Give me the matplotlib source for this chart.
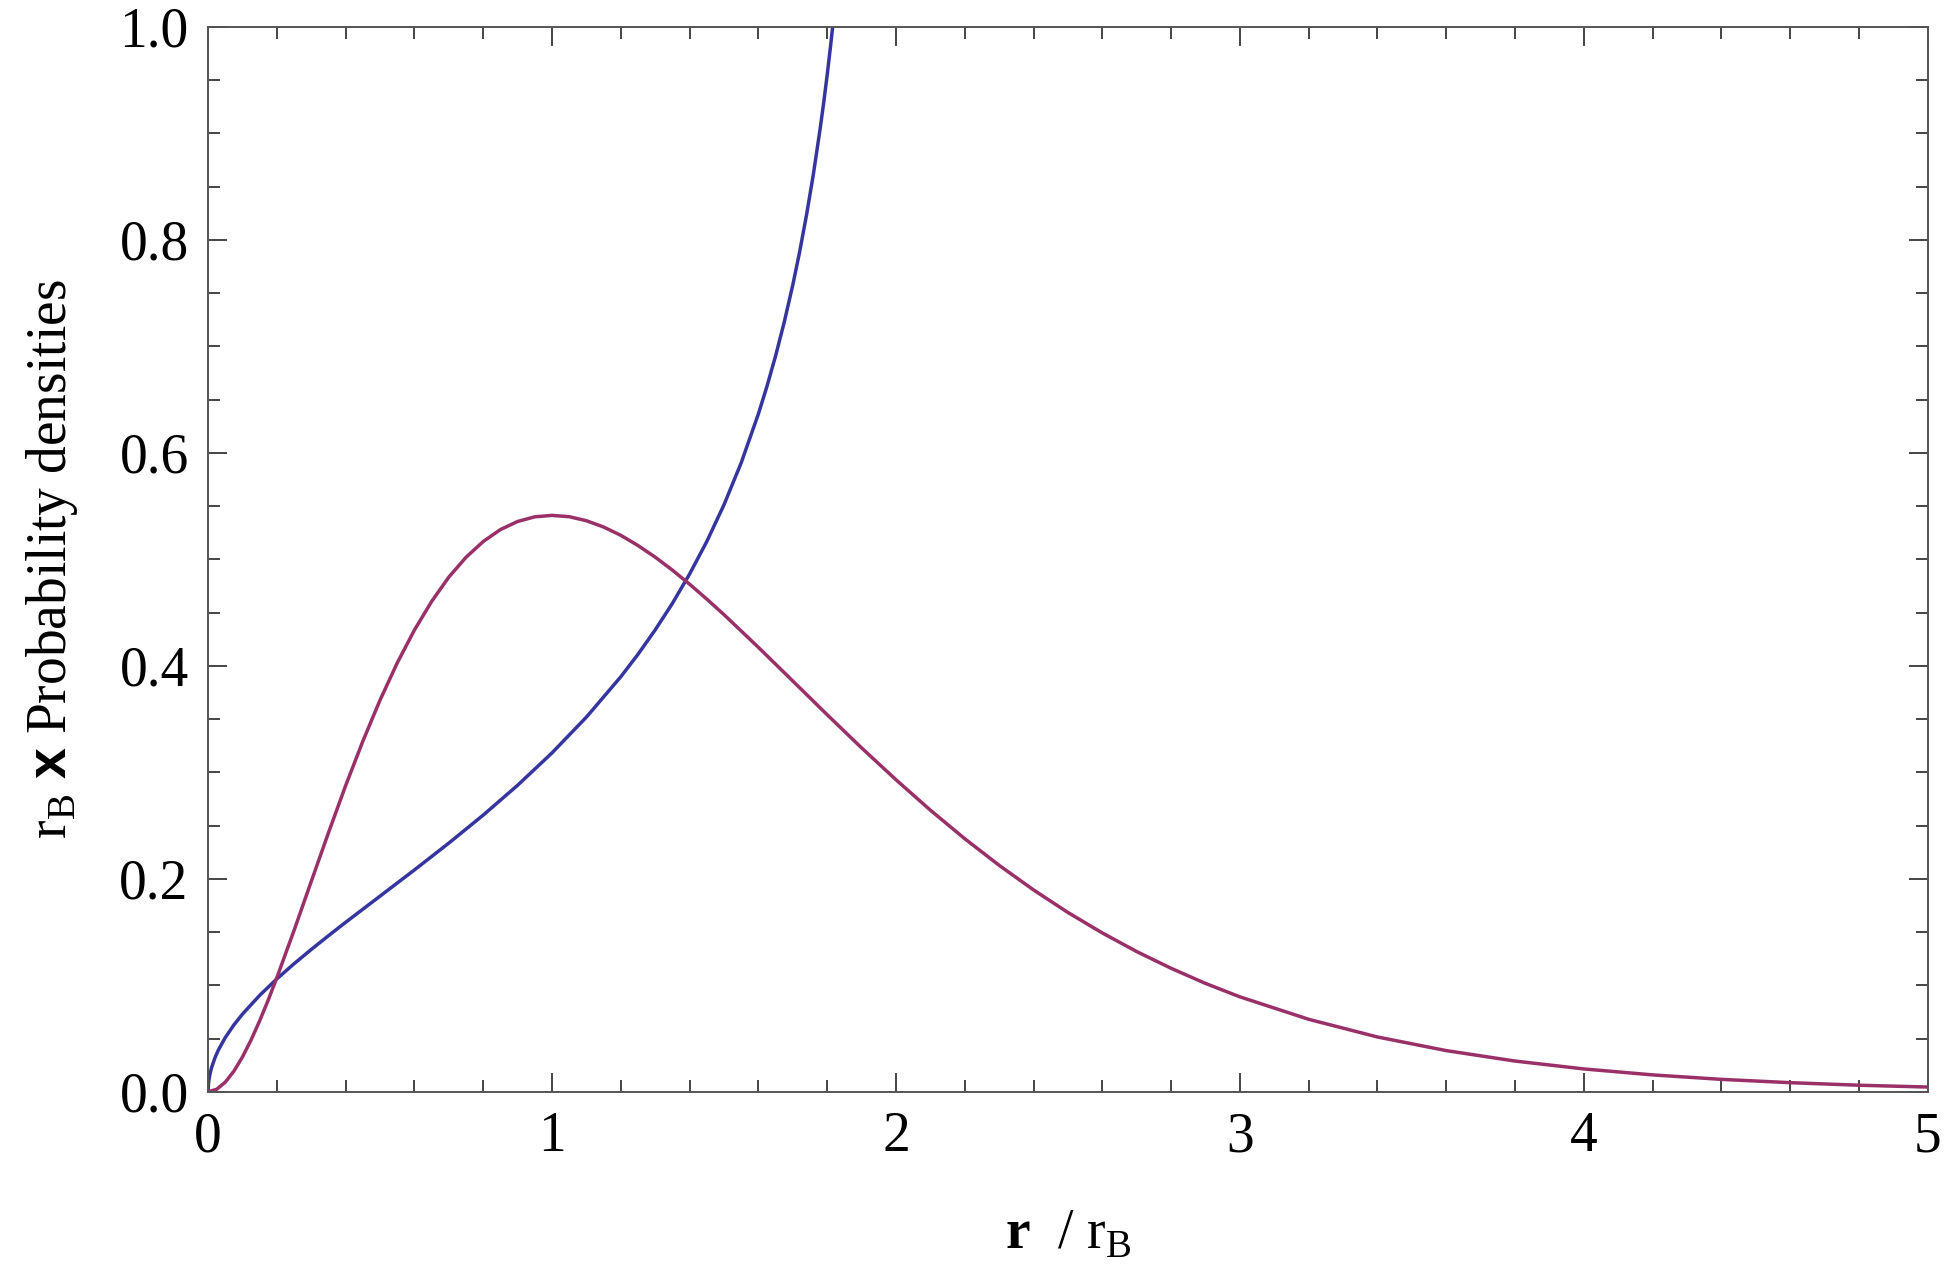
import numpy as np
import matplotlib.pyplot as plt
from matplotlib.ticker import MultipleLocator

plt.rcParams['font.family'] = ['Liberation Serif', 'DejaVu Serif']
plt.rcParams['mathtext.fontset'] = 'custom'
plt.rcParams['mathtext.rm'] = 'Liberation Serif'
plt.rcParams['mathtext.bf'] = 'Liberation Serif:bold'
plt.rcParams['mathtext.sf'] = 'Liberation Sans:bold'

# blue curve (shoots up just before r ~ 1.82)
r_blue = [0, 0.001, 0.002, 0.005, 0.01, 0.02, 0.03, 0.05, 0.075, 0.1, 0.15,
          0.2, 0.25, 0.3, 0.35, 0.4, 0.45, 0.5, 0.6, 0.7, 0.8, 0.9, 1.0, 1.1,
          1.2, 1.25, 1.3, 1.35, 1.4, 1.45, 1.5, 1.55, 1.6, 1.625, 1.65, 1.675,
          1.7, 1.72, 1.74, 1.76, 1.78, 1.79, 1.8, 1.81, 1.82, 1.84]
p_blue = [0, 0.0071, 0.0101, 0.0159, 0.0226, 0.0320, 0.0393, 0.0510, 0.0628,
          0.0730, 0.0906, 0.1061, 0.1203, 0.1337, 0.1466, 0.1592, 0.1715,
          0.1838, 0.2084, 0.2336, 0.2599, 0.2879, 0.3183, 0.3519, 0.3898,
          0.4109, 0.4338, 0.4587, 0.4863, 0.5168, 0.5513, 0.5907, 0.6366,
          0.6626, 0.6911, 0.7226, 0.7577, 0.7889, 0.8235, 0.8620, 0.9054,
          0.9293, 0.9549, 0.9825, 1.0122, 1.0795]

# purple curve
r_purple = [0, 0.025, 0.05, 0.075, 0.1, 0.125, 0.15, 0.175, 0.2, 0.25, 0.3,
            0.35, 0.4, 0.45, 0.5, 0.55, 0.6, 0.65, 0.7, 0.75, 0.8, 0.85, 0.9,
            0.95, 1.0, 1.05, 1.1, 1.15, 1.2, 1.25, 1.3, 1.35, 1.4, 1.45, 1.5,
            1.6, 1.7, 1.8, 1.9, 2.0, 2.1, 2.2, 2.3, 2.4, 2.5, 2.6, 2.7, 2.8,
            2.9, 3.0, 3.2, 3.4, 3.6, 3.8, 4.0, 4.2, 4.4, 4.6, 4.8, 5.0]
p_purple = [0, 0.0024, 0.0091, 0.0194, 0.0328, 0.0487, 0.0667, 0.0863, 0.1073,
            0.1516, 0.1976, 0.2433, 0.2876, 0.3293, 0.3679, 0.4028, 0.4337,
            0.4605, 0.4834, 0.5020, 0.5168, 0.5280, 0.5356, 0.5400, 0.5413,
            0.5401, 0.5363, 0.5304, 0.5226, 0.5130, 0.5021, 0.4899, 0.4767,
            0.4627, 0.4481, 0.4174, 0.3858, 0.3541, 0.3230, 0.2931, 0.2645,
            0.2377, 0.2127, 0.1896, 0.1684, 0.1492, 0.1317, 0.1160, 0.1018,
            0.0892, 0.0681, 0.0515, 0.0387, 0.0289, 0.0215, 0.0159, 0.0117,
            0.0086, 0.0062, 0.0045]

fig = plt.figure(figsize=(19.52, 12.83), dpi=100)
ax = fig.add_axes([0.1066, 0.149, 0.881, 0.830])

ax.plot(r_blue, p_blue, color='#3535a0', lw=2.5, solid_joinstyle='round')
ax.plot(r_purple, p_purple, color='#9a3068', lw=2.5, solid_joinstyle='round')

ax.set_xlim(0, 5)
ax.set_ylim(0, 1)
ax.xaxis.set_major_locator(MultipleLocator(1))
ax.xaxis.set_minor_locator(MultipleLocator(0.2))
ax.yaxis.set_major_locator(MultipleLocator(0.2))
ax.yaxis.set_minor_locator(MultipleLocator(0.05))
ax.xaxis.set_major_formatter(plt.FuncFormatter(lambda v, p: '%d' % v))
ax.yaxis.set_major_formatter(plt.FuncFormatter(lambda v, p: '%.1f' % v))

ax.tick_params(which='both', direction='in', top=True, right=True,
               color='#444444', width=1.4, labelsize=40, pad=14)
ax.tick_params(which='major', length=14)
ax.tick_params(which='minor', length=8.5)
for s in ax.spines.values():
    s.set_color('#555555')
    s.set_linewidth(1.4)

ax.set_xlabel(r'$\mathbf{r}$  / r$_\mathregular{B}$', fontsize=40, labelpad=32)
ax.set_ylabel(r'r$_\mathregular{B}$ $\mathsf{x}$ Probability densities',
              fontsize=40, labelpad=28)

fig.savefig('out.png', dpi=100)
